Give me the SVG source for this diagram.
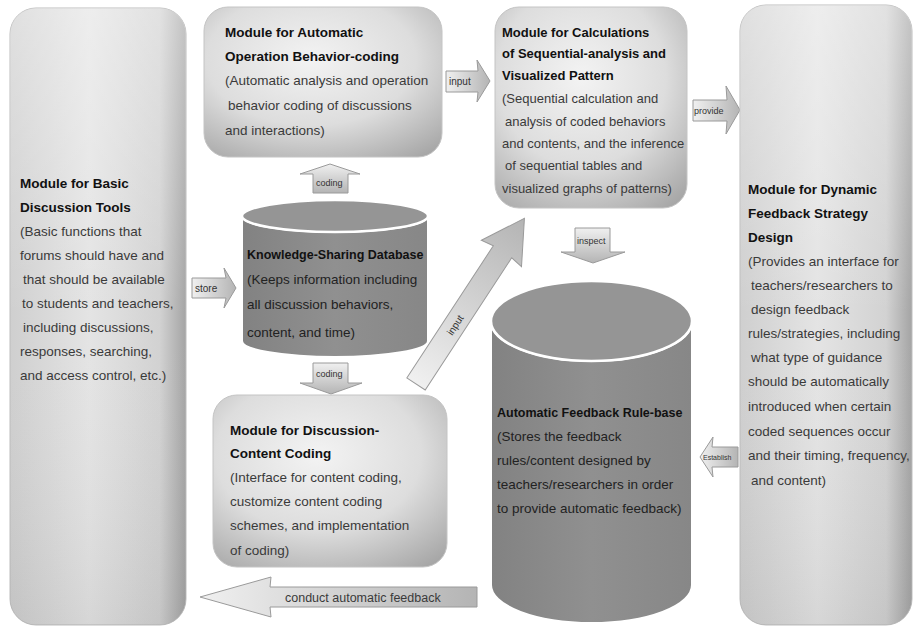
<svg xmlns="http://www.w3.org/2000/svg" width="914" height="628" viewBox="0 0 914 628">
<defs>
<linearGradient id="gPanel" x1="0" y1="0" x2="1" y2="0">
<stop offset="0" stop-color="#cfcfcf"/>
<stop offset="0.45" stop-color="#e4e4e4"/>
<stop offset="0.85" stop-color="#d2d2d2"/>
<stop offset="1" stop-color="#a4a4a4"/>
</linearGradient>
<linearGradient id="gPanelV" x1="0" y1="0" x2="0" y2="1">
<stop offset="0" stop-color="#ffffff" stop-opacity="0.35"/>
<stop offset="0.5" stop-color="#ffffff" stop-opacity="0"/>
<stop offset="1" stop-color="#000000" stop-opacity="0.06"/>
</linearGradient>
<radialGradient id="gBox" cx="0.45" cy="0.35" r="0.8">
<stop offset="0" stop-color="#f3f3f3"/>
<stop offset="0.55" stop-color="#dddddd"/>
<stop offset="1" stop-color="#a6a6a6"/>
</radialGradient>
<linearGradient id="gArrow" x1="0" y1="0" x2="0" y2="1">
<stop offset="0" stop-color="#f0f0f0"/>
<stop offset="1" stop-color="#b4b4b4"/>
</linearGradient>
<linearGradient id="gArrowH" x1="0" y1="0" x2="1" y2="0">
<stop offset="0" stop-color="#f0f0f0"/>
<stop offset="1" stop-color="#b4b4b4"/>
</linearGradient>
<linearGradient id="gCyl" x1="0" y1="0" x2="1" y2="0">
<stop offset="0" stop-color="#828282"/>
<stop offset="0.5" stop-color="#909090"/>
<stop offset="1" stop-color="#878787"/>
</linearGradient>
<style>
.panel{fill:url(#gPanel);stroke:#bdbdbd;stroke-width:1}
.shade{fill:url(#gPanelV);stroke:none}
.box{fill:url(#gBox);stroke:#c4c4c4;stroke-width:1}
.cyl{fill:url(#gCyl);stroke:#ffffff;stroke-width:2}
.cyltop{fill:#959595;stroke:#ffffff;stroke-width:2.5}
.arr{fill:url(#gArrow);stroke:#9a9a9a;stroke-width:1}
.arrh{fill:url(#gArrowH);stroke:#9a9a9a;stroke-width:1}
text{font-family:"Liberation Sans",Arial,sans-serif;font-size:13.5px;fill:#3a3a3a}
.b{font-weight:bold;fill:#111}
.c{fill:#222}
.n13{font-size:13px}
.lbl{font-size:10px;fill:#333}
.sm{font-size:9px;fill:#333}
</style>
</defs>
<rect width="914" height="628" fill="#ffffff"/>

<g id="connectors">
<g id="c-store">
<polygon class="arrh" points="192,278 226,278 224,268 236,288 224,308 226,298 192,298"/>
<text class="lbl" x="195" y="292">store</text>
</g>
<g id="c-input1">
<polygon class="arrh" points="446,71 478,71 477,60 490,81 477,102 478,92 446,92"/>
<text class="lbl" x="449" y="85">input</text>
</g>
<g id="c-provide">
<polygon class="arrh" points="693,100 727,100 726,86 740,110 726,134 727,121 693,121"/>
<text class="sm" x="694" y="114">provide</text>
</g>
<g id="c-coding-up">
<polygon class="arr" points="313,193 313,174 300,174 330,164 360,174 348,174 348,193"/>
<text class="sm" x="316" y="186">coding</text>
</g>
<g id="c-coding-down">
<polygon class="arr" points="313,363 348,363 348,383 362,383 331,394 300,383 313,383"/>
<text class="sm" x="316" y="377">coding</text>
</g>
<g id="c-inspect">
<polygon class="arr" points="575,228 610,228 610,252 625,252 593,263 561,252 575,252"/>
<text class="sm" x="577" y="244">inspect</text>
</g>
<g id="c-establish">
<polygon class="arrh" points="738,447 712,447 713,437 700,457 713,477 712,467 738,467"/>
<text x="703" y="460" style="font-size:7px;fill:#333">Establish</text>
</g>
<g id="c-input2" transform="translate(416,384) rotate(-56.8)">
<polygon class="arrh" points="0,-11 158,-11 156,-24 198,0 156,24 158,11 0,11"/>
<text class="lbl" x="60" y="4">input</text>
</g>
<g id="c-conduct">
<polygon class="arrh" points="477,587 270,587 271,577 200,597 271,617 270,607 477,607"/>
<text x="285" y="602" style="font-size:12.5px">conduct automatic feedback</text>
</g>
</g>

<g id="n-basic">
<rect class="panel" x="10" y="8" width="176" height="617" rx="26"/>
<rect class="shade" x="10" y="8" width="176" height="617" rx="26"/>
<text class="b" x="20" y="188">Module for Basic</text>
<text class="b" x="20" y="212">Discussion Tools</text>
<text x="20" y="236">(Basic functions that</text>
<text x="20" y="260">forums should have and</text>
<text x="23" y="284">that should be available</text>
<text x="22" y="308">to students and teachers,</text>
<text x="23" y="332">including discussions,</text>
<text x="20" y="356">responses, searching,</text>
<text x="20" y="380">and access control, etc.)</text>
</g>

<g id="n-operation">
<rect class="box" x="204" y="7" width="238" height="150" rx="24"/>
<text class="b" x="225" y="37">Module for Automatic</text>
<text class="b" x="225" y="61">Operation Behavior-coding</text>
<text x="225" y="85">(Automatic analysis and operation</text>
<text x="228" y="110">behavior coding of discussions</text>
<text x="225" y="135">and interactions)</text>
</g>

<g id="n-calc">
<rect class="box" x="495" y="7" width="192" height="201" rx="24"/>
<text class="b n13" x="502" y="37">Module for Calculations</text>
<text class="b n13" x="502" y="58">of Sequential-analysis and</text>
<text class="b n13" x="502" y="80">Visualized Pattern</text>
<text class="n13" x="502" y="103">(Sequential calculation and</text>
<text class="n13" x="505" y="126">analysis of coded behaviors</text>
<text class="n13" x="502" y="148">and contents, and the inference</text>
<text class="n13" x="505" y="170">of sequential tables and</text>
<text class="n13" x="502" y="193">visualized graphs of patterns)</text>
</g>

<g id="n-dynamic">
<rect class="panel" x="740" y="5" width="172" height="620" rx="26"/>
<rect class="shade" x="740" y="5" width="172" height="620" rx="26"/>
<text class="b" x="748" y="194">Module for Dynamic</text>
<text class="b" x="748" y="218">Feedback Strategy</text>
<text class="b" x="748" y="242">Design</text>
<text x="748" y="266">(Provides an interface for</text>
<text x="751" y="290">teachers/researchers to</text>
<text x="751" y="314">design feedback</text>
<text x="748" y="338">rules/strategies, including</text>
<text x="751" y="362">what type of guidance</text>
<text x="748" y="386">should be automatically</text>
<text x="748" y="411">introduced when certain</text>
<text x="748" y="436">coded sequences occur</text>
<text x="748" y="460">and their timing, frequency,</text>
<text x="751" y="485">and content)</text>
</g>

<g id="n-database">
<path class="cyl" d="M242,216 L242,341 A93,16 0 0 0 428,341 L428,216 A93,16 0 0 1 242,216 Z"/>
<ellipse class="cyltop" cx="335" cy="216" rx="93" ry="16"/>
<text class="b" x="247" y="259" style="font-size:12.5px">Knowledge-Sharing Database</text>
<text class="c" x="247" y="284">(Keeps information including</text>
<text class="c" x="247" y="309">all discussion behaviors,</text>
<text class="c" x="247" y="337">content, and time)</text>
</g>

<g id="n-content">
<rect class="box" x="213" y="395" width="234" height="172" rx="24"/>
<text class="b" x="230" y="435">Module for Discussion-</text>
<text class="b" x="230" y="458">Content Coding</text>
<text x="230" y="482">(Interface for content coding,</text>
<text x="230" y="506">customize content coding</text>
<text x="230" y="530">schemes, and implementation</text>
<text x="230" y="555">of coding)</text>
</g>

<g id="n-rulebase">
<path class="cyl" d="M491,321 L491,585 A100.5,38 0 0 0 692,585 L692,321 A100.5,40 0 0 1 491,321 Z"/>
<ellipse class="cyltop" cx="591.5" cy="321" rx="100.5" ry="40"/>
<text class="b" x="497" y="417" style="font-size:12.5px">Automatic Feedback Rule-base</text>
<text class="c" x="497" y="441">(Stores the feedback</text>
<text class="c" x="497" y="465">rules/content designed by</text>
<text class="c" x="497" y="489">teachers/researchers in order</text>
<text class="c" x="497" y="513">to provide automatic feedback)</text>
</g>
</svg>
